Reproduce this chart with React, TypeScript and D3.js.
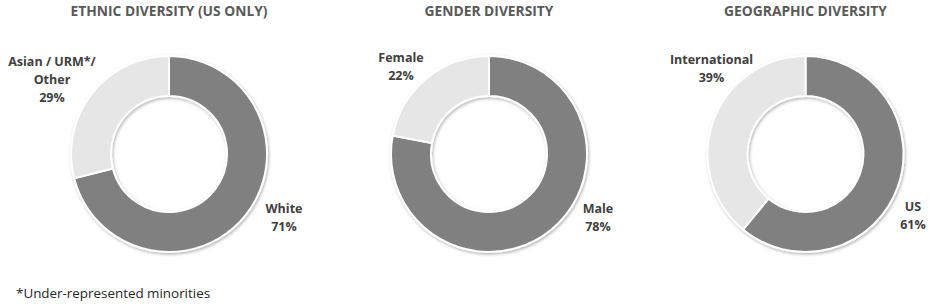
import React from "react";
import * as d3 from "d3";

const titles = ["ETHNIC DIVERSITY (US ONLY)", "GENDER DIVERSITY", "GEOGRAPHIC DIVERSITY"];
const ethnicLabels = ["White", "Asian / URM*/ Other"];
const ethnicValues = [71, 29];
const genderLabels = ["Male", "Female"];
const genderValues = [78, 22];
const geoLabels = ["US", "International"];
const geoValues = [61, 39];
const footnote = "*Under-represented minorities";

const W = 933;
const H = 304;
const colors = ["#808080", "#e6e6e6"];

// layout: chart centers and label anchors (px)
const centersX = [169, 489, 805.5];
const centerY = 154;
const outerR = 98;
const innerR = 58;
const labelAnchors = [
  [[284, 213, ["White"]], [52, 66, ["Asian / URM*/", "Other"]]],
  [[598, 213, ["Male"]], [401, 62, ["Female"]]],
  [[913, 211, ["US"]], [711.5, 64, ["International"]]],
];

const datasets = [
  { labels: ethnicLabels, values: ethnicValues },
  { labels: genderLabels, values: genderValues },
  { labels: geoLabels, values: geoValues },
];

export default function App() {
  const pie = d3.pie<number>().sort(null).value((d) => d);
  const arc = d3.arc<d3.PieArcDatum<number>>().innerRadius(innerR).outerRadius(outerR);
  const font = "'Open Sans', 'Liberation Sans', sans-serif";
  return (
    <svg width={W} height={H} style={{ position: "absolute", left: 0, top: 0, background: "#fff" }}>
      <defs>
        <filter id="sh" x="-20%" y="-20%" width="140%" height="140%">
          <feDropShadow dx="1" dy="1.5" stdDeviation="1.5" floodColor="#000" floodOpacity="0.3" />
        </filter>
      </defs>
      {datasets.map((ds, i) => {
        const arcs = pie(ds.values);
        return (
          <g key={i}>
            <text
              x={centersX[i]}
              y={16}
              textAnchor="middle"
              fontFamily={font}
              fontWeight="bold"
              fontSize={13.8}
              fill="#595959"
            >
              {titles[i]}
            </text>
            <g transform={`translate(${centersX[i]},${centerY})`} filter="url(#sh)">
              {arcs.map((a, j) => (
                <path key={j} d={arc(a) || ""} fill={colors[j]} stroke="#fff" strokeWidth={2} />
              ))}
            </g>
            {arcs.map((a, j) => {
              const [lx, ly, lines] = labelAnchors[i][j] as [number, number, string[]];
              const pct = `${Math.round((a.value / d3.sum(ds.values)) * 100)}%`;
              const all = [...lines, pct];
              return (
                <text
                  key={j}
                  x={lx}
                  y={ly}
                  textAnchor="middle"
                  fontFamily={font}
                  fontWeight="bold"
                  fontSize={12.5}
                  fill="#404040"
                >
                  {all.map((t, k) => (
                    <tspan key={k} x={lx} dy={k === 0 ? 0 : 18}>
                      {t}
                    </tspan>
                  ))}
                </text>
              );
            })}
          </g>
        );
      })}
      <text x={16} y={298} fontFamily={font} fontSize={13.4} fill="#262626">
        {footnote}
      </text>
    </svg>
  );
}
